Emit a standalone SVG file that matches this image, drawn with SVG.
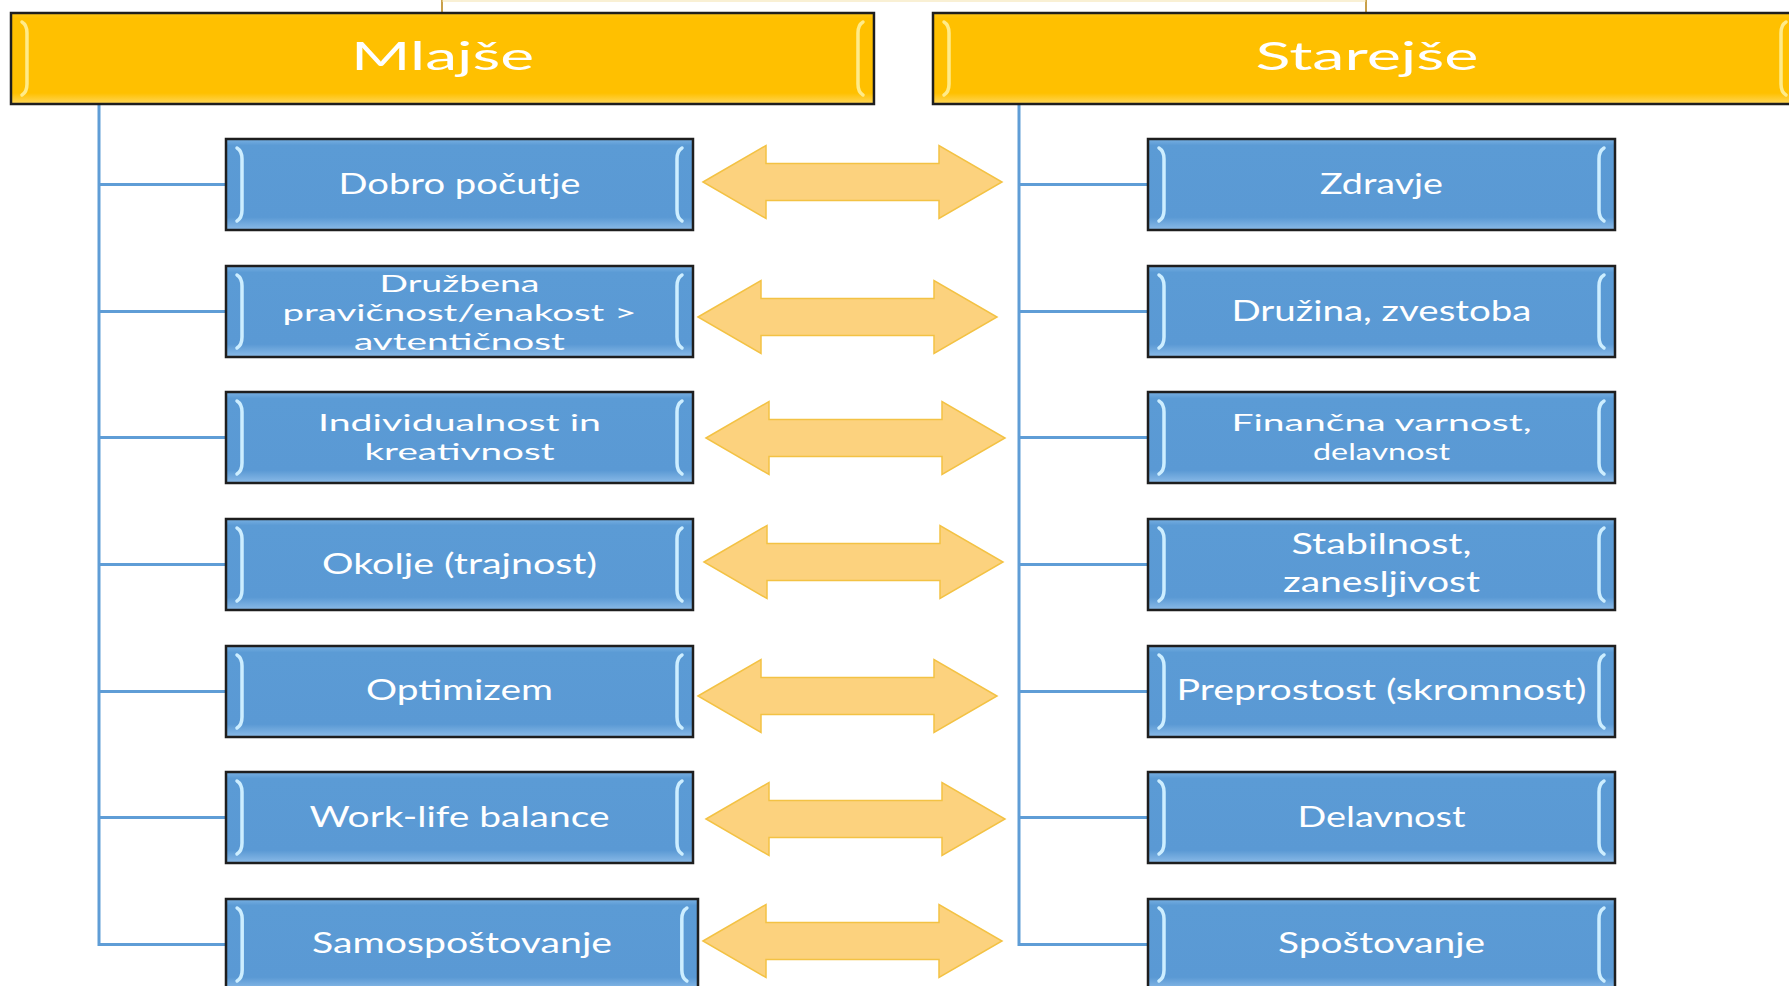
<svg xmlns="http://www.w3.org/2000/svg" xmlns:xlink="http://www.w3.org/1999/xlink" width="1789" height="986" viewBox="0 0 1789 986">
  <style>
    .lbl { font-family: Lato, "Open Sans", "Liberation Sans", sans-serif; fill: #FFFFFF; text-anchor: middle; }
    .s29 { font-size: 29px; }
    .s24 { font-size: 24px; }
    .s238 { font-size: 23.8px; }
    .ttl { font-size: 39px; }
    .tree { fill: none; stroke: #5F9DD6; stroke-width: 3; }
    .top { fill: none; stroke: #C9A04A; stroke-width: 2; }
    .arrow { fill: #FCD27E; stroke: #F3C244; stroke-width: 1.5; stroke-linejoin: miter; }
  </style>
  <defs>
    <linearGradient id="gBlue" x1="0" y1="0" x2="0" y2="1">
      <stop offset="0" stop-color="#79B0E2"/>
      <stop offset="0.07" stop-color="#5B9BD5"/>
      <stop offset="0.86" stop-color="#5A99D4"/>
      <stop offset="1" stop-color="#8BBBE8"/>
    </linearGradient>
    <linearGradient id="gGold" x1="0" y1="0" x2="0" y2="1">
      <stop offset="0" stop-color="#FFC61A"/>
      <stop offset="0.06" stop-color="#FFC000"/>
      <stop offset="0.88" stop-color="#FFC000"/>
      <stop offset="1" stop-color="#FFD75A"/>
    </linearGradient>
    <!-- bevelled blue value box, 467 x 91 -->
    <symbol id="blueBox" overflow="visible">
      <rect x="0" y="0" width="467" height="91" fill="url(#gBlue)" stroke="#1E1E1E" stroke-width="2.5"/>
      <path d="M11,9 Q16,12 16,20 L16,71 Q16,79 11,82" fill="none" stroke="#CDEEFF" stroke-width="3.5" stroke-linecap="round"/>
      <path d="M456,9 Q451,12 451,20 L451,71 Q451,79 456,82" fill="none" stroke="#CDEEFF" stroke-width="3.5" stroke-linecap="round"/>
    </symbol>
    <!-- bevelled gold heading box, 864 x 91 -->
    <symbol id="goldBox" overflow="visible">
      <rect x="0" y="0" width="864" height="91" fill="url(#gGold)" stroke="#1E1E1E" stroke-width="2.5"/>
      <path d="M11,9 Q16,12 16,20 L16,71 Q16,79 11,82" fill="none" stroke="#FFEB8A" stroke-width="3.5" stroke-linecap="round"/>
      <path d="M853,9 Q848,12 848,20 L848,71 Q848,79 853,82" fill="none" stroke="#FFEB8A" stroke-width="3.5" stroke-linecap="round"/>
    </symbol>
    <!-- two-headed block arrow, 299 long, centred on y=0 -->
    <path id="dblArrow" d="M0,0 L63,-36.5 L63,-18.5 L236,-18.5 L236,-36.5 L299,0 L236,36.5 L236,18.5 L63,18.5 L63,36.5 Z"/>
  </defs>

  <rect width="1789" height="986" fill="#FFFFFF"/>

  <!-- tree lines and paired arrows -->
  <g id="connectors">
    <path class="top" d="M442,0 V13 M1366,0 V13"/>
    <path d="M442,1 H1366" fill="none" stroke="#F4E2AA" stroke-width="1.2"/>
    <path class="tree" d="M99,104 V944.5 H226 M99,184.5 H226 M99,311.5 H226 M99,437.5 H226 M99,564.5 H226 M99,691.5 H226 M99,817.5 H226"/>
    <path class="tree" d="M1019,104 V944.5 H1148 M1019,184.5 H1148 M1019,311.5 H1148 M1019,437.5 H1148 M1019,564.5 H1148 M1019,691.5 H1148 M1019,817.5 H1148"/>
    <use xlink:href="#dblArrow" class="arrow" transform="translate(703,182)"/>
    <use xlink:href="#dblArrow" class="arrow" transform="translate(698,317)"/>
    <use xlink:href="#dblArrow" class="arrow" transform="translate(706,438)"/>
    <use xlink:href="#dblArrow" class="arrow" transform="translate(704,562)"/>
    <use xlink:href="#dblArrow" class="arrow" transform="translate(698,696)"/>
    <use xlink:href="#dblArrow" class="arrow" transform="translate(706,819)"/>
    <use xlink:href="#dblArrow" class="arrow" transform="translate(703,941)"/>
  </g>

  <!-- headings -->
  <g id="mlajse">
    <use xlink:href="#goldBox" transform="translate(11,13) scale(0.9988,1)"/>
    <text class="lbl ttl" x="442.5" y="70" textLength="183" lengthAdjust="spacingAndGlyphs">Mlajše</text>
  </g>
  <g id="starejse">
    <use xlink:href="#goldBox" transform="translate(933,13)"/>
    <text class="lbl ttl" x="1367" y="70" textLength="223" lengthAdjust="spacingAndGlyphs">Starejše</text>
  </g>

  <!-- younger generation values -->
  <g id="m1">
    <use xlink:href="#blueBox" x="226" y="139"/>
    <text class="lbl s29" x="459.5" y="194" textLength="242" lengthAdjust="spacingAndGlyphs">Dobro počutje</text>
  </g>
  <g id="m2">
    <use xlink:href="#blueBox" x="226" y="266"/>
    <text class="lbl s238" x="459.5" y="292" textLength="160" lengthAdjust="spacingAndGlyphs">Družbena</text>
    <text class="lbl s238" x="459.5" y="321" textLength="354" lengthAdjust="spacingAndGlyphs">pravičnost/enakost &gt;</text>
    <text class="lbl s238" x="459.5" y="350" textLength="211" lengthAdjust="spacingAndGlyphs">avtentičnost</text>
  </g>
  <g id="m3">
    <use xlink:href="#blueBox" x="226" y="392"/>
    <text class="lbl s24" x="459.5" y="431" textLength="283" lengthAdjust="spacingAndGlyphs">Individualnost in</text>
    <text class="lbl s24" x="459.5" y="460" textLength="190" lengthAdjust="spacingAndGlyphs">kreativnost</text>
  </g>
  <g id="m4">
    <use xlink:href="#blueBox" x="226" y="519"/>
    <text class="lbl s29" x="459.5" y="574" textLength="275" lengthAdjust="spacingAndGlyphs">Okolje (trajnost)</text>
  </g>
  <g id="m5">
    <use xlink:href="#blueBox" x="226" y="646"/>
    <text class="lbl s29" x="459.5" y="700" textLength="187" lengthAdjust="spacingAndGlyphs">Optimizem</text>
  </g>
  <g id="m6">
    <use xlink:href="#blueBox" x="226" y="772"/>
    <text class="lbl s29" x="459.5" y="827" textLength="300" lengthAdjust="spacingAndGlyphs">Work-life balance</text>
  </g>
  <g id="m7">
    <use xlink:href="#blueBox" transform="translate(226,899) scale(1.0107,1)"/>
    <text class="lbl s29" x="462" y="953" textLength="300" lengthAdjust="spacingAndGlyphs">Samospoštovanje</text>
  </g>

  <!-- older generation values -->
  <g id="s1">
    <use xlink:href="#blueBox" x="1148" y="139"/>
    <text class="lbl s29" x="1381.5" y="194" textLength="123" lengthAdjust="spacingAndGlyphs">Zdravje</text>
  </g>
  <g id="s2">
    <use xlink:href="#blueBox" x="1148" y="266"/>
    <text class="lbl s29" x="1381.5" y="321" textLength="300" lengthAdjust="spacingAndGlyphs">Družina, zvestoba</text>
  </g>
  <g id="s3">
    <use xlink:href="#blueBox" x="1148" y="392"/>
    <text class="lbl s24" x="1381.5" y="431" textLength="300" lengthAdjust="spacingAndGlyphs">Finančna varnost,</text>
    <text class="lbl s24" x="1381.5" y="460" textLength="137" lengthAdjust="spacingAndGlyphs">delavnost</text>
  </g>
  <g id="s4">
    <use xlink:href="#blueBox" x="1148" y="519"/>
    <text class="lbl s29" x="1381.5" y="554" textLength="180" lengthAdjust="spacingAndGlyphs">Stabilnost,</text>
    <text class="lbl s29" x="1381.5" y="592" textLength="197" lengthAdjust="spacingAndGlyphs">zanesljivost</text>
  </g>
  <g id="s5">
    <use xlink:href="#blueBox" x="1148" y="646"/>
    <text class="lbl s29" x="1381.5" y="700" textLength="410" lengthAdjust="spacingAndGlyphs">Preprostost (skromnost)</text>
  </g>
  <g id="s6">
    <use xlink:href="#blueBox" x="1148" y="772"/>
    <text class="lbl s29" x="1381.5" y="827" textLength="168" lengthAdjust="spacingAndGlyphs">Delavnost</text>
  </g>
  <g id="s7">
    <use xlink:href="#blueBox" x="1148" y="899"/>
    <text class="lbl s29" x="1381.5" y="953" textLength="207" lengthAdjust="spacingAndGlyphs">Spoštovanje</text>
  </g>
</svg>
